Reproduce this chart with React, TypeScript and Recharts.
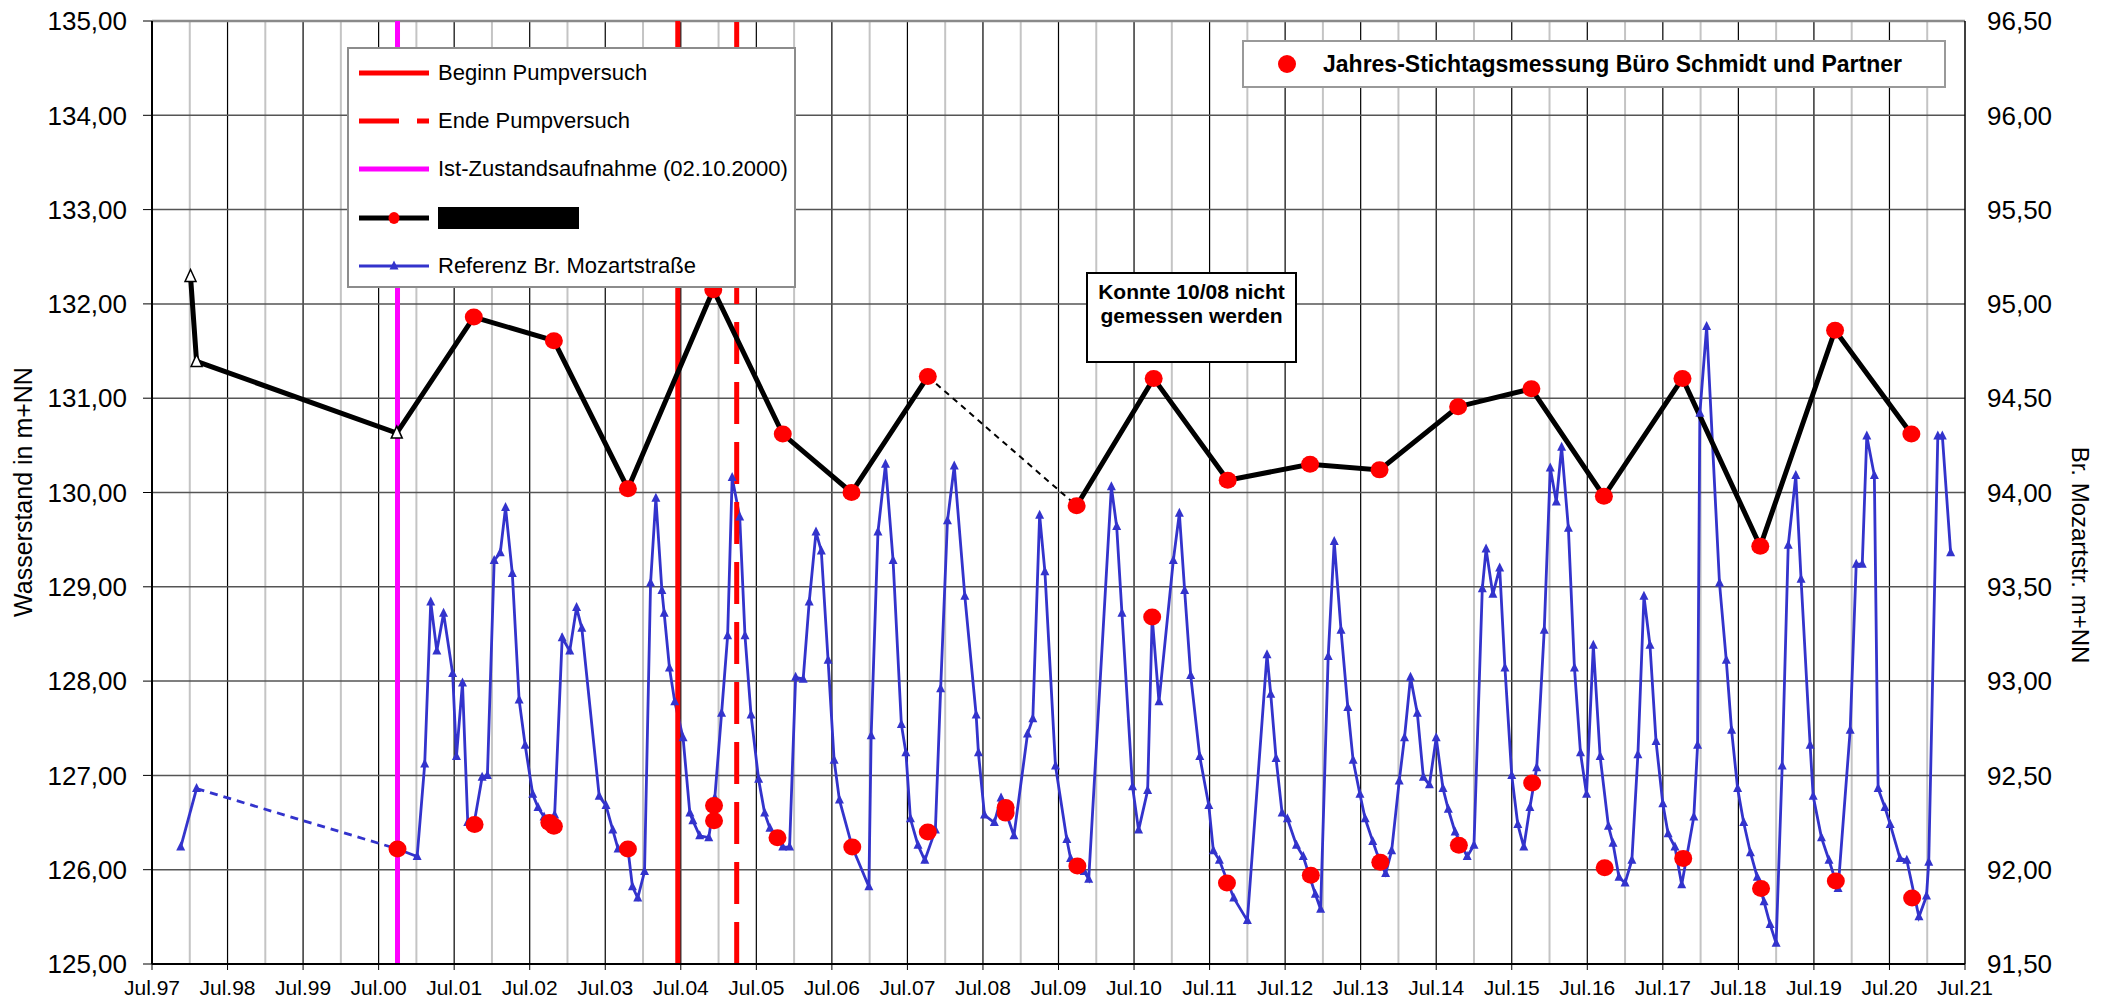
import React from 'react';
import { ComposedChart, Line, Scatter, XAxis, YAxis, ReferenceLine } from 'recharts';

const FONT = '"Liberation Sans", Arial, Helvetica, sans-serif';

// x values are decimal years, Jul.97 = 1997.5
const tickYears = [
  1997.5, 1998.5, 1999.5, 2000.5, 2001.5, 2002.5, 2003.5, 2004.5, 2005.5, 2006.5, 2007.5, 2008.5, 2009.5,
  2010.5, 2011.5, 2012.5, 2013.5, 2014.5, 2015.5, 2016.5, 2017.5, 2018.5, 2019.5, 2020.5, 2021.5,
];
const tickLabels = [
  'Jul.97', 'Jul.98', 'Jul.99', 'Jul.00', 'Jul.01', 'Jul.02', 'Jul.03', 'Jul.04', 'Jul.05', 'Jul.06', 'Jul.07',
  'Jul.08', 'Jul.09', 'Jul.10', 'Jul.11', 'Jul.12', 'Jul.13', 'Jul.14', 'Jul.15', 'Jul.16', 'Jul.17', 'Jul.18',
  'Jul.19', 'Jul.20', 'Jul.21',
];
const janLines = [
  1998, 1999, 2000, 2001, 2002, 2003, 2004, 2005, 2006, 2007, 2008, 2009, 2010, 2011, 2012, 2013, 2014, 2015,
  2016, 2017, 2018, 2019, 2020, 2021,
];
const leftTicks = [125, 126, 127, 128, 129, 130, 131, 132, 133, 134, 135];
const rightTicks = [91.5, 92, 92.5, 93, 93.5, 94, 94.5, 95, 95.5, 96, 96.5];

// event dates
const istZustand = 2000.75;
const beginnPump = 2004.46;
const endePump = 2005.24;
const missedSurvey = 2008.75;

// well, left axis (m+NN): first values (open triangles) and yearly survey (red dots)
const wellEarly = [[1998.01, 132.29], [1998.09, 131.39], [2000.74, 130.63]];
const wellSurvey = [
  [2001.76, 131.86], [2002.82, 131.61], [2003.8, 130.04], [2004.93, 132.15], [2005.85, 130.62],
  [2006.76, 130.0], [2007.77, 131.23], [2009.74, 129.86], [2010.76, 131.21], [2011.74, 130.13],
  [2012.83, 130.3], [2013.75, 130.24], [2014.79, 130.91], [2015.76, 131.1], [2016.72, 129.96],
  [2017.76, 131.21], [2018.79, 129.43], [2019.78, 131.72], [2020.79, 130.62],
];

// Referenz Br. Mozartstraße, right axis
const mozartEarly = [[1997.88, 92.12], [1998.09, 92.43]];
const mozartMain = [
  [2000.75, 92.11], [2001.01, 92.07], [2001.11, 92.56], [2001.19, 93.42], [2001.27, 93.16], [2001.36, 93.36],
  [2001.48, 93.04], [2001.53, 92.6], [2001.61, 92.99], [2001.68, 92.25], [2001.77, 92.26], [2001.87, 92.49],
  [2001.94, 92.5], [2002.03, 93.64], [2002.11, 93.68], [2002.18, 93.92], [2002.27, 93.57], [2002.36, 92.9],
  [2002.44, 92.66], [2002.54, 92.4], [2002.61, 92.33], [2002.69, 92.28], [2002.76, 92.25], [2002.83, 92.29],
  [2002.93, 93.23], [2003.03, 93.16], [2003.12, 93.39], [2003.19, 93.28], [2003.42, 92.39], [2003.51, 92.34],
  [2003.6, 92.21], [2003.67, 92.11], [2003.8, 92.11], [2003.86, 91.91], [2003.93, 91.85], [2004.02, 91.99],
  [2004.1, 93.52], [2004.17, 93.97], [2004.25, 93.48], [2004.28, 93.36], [2004.35, 93.07], [2004.42, 92.89],
  [2004.53, 92.7], [2004.62, 92.3], [2004.66, 92.26], [2004.75, 92.18], [2004.87, 92.17], [2004.95, 92.38],
  [2005.04, 92.83], [2005.12, 93.24], [2005.18, 94.08], [2005.28, 93.87], [2005.35, 93.24], [2005.43, 92.82],
  [2005.53, 92.48], [2005.61, 92.3], [2005.68, 92.22], [2005.78, 92.17], [2005.85, 92.12], [2005.94, 92.12],
  [2006.02, 93.02], [2006.12, 93.01], [2006.2, 93.42], [2006.29, 93.79], [2006.36, 93.69], [2006.45, 93.11],
  [2006.53, 92.58], [2006.6, 92.37], [2006.77, 92.12], [2006.99, 91.91], [2007.02, 92.71], [2007.11, 93.79],
  [2007.21, 94.15], [2007.31, 93.64], [2007.42, 92.77], [2007.48, 92.62], [2007.54, 92.27], [2007.64, 92.13],
  [2007.73, 92.05], [2007.87, 92.21], [2007.94, 92.96], [2008.03, 93.85], [2008.12, 94.14], [2008.26, 93.45],
  [2008.41, 92.82], [2008.44, 92.62], [2008.52, 92.29], [2008.65, 92.25], [2008.74, 92.38], [2008.91, 92.18],
  [2009.09, 92.72], [2009.16, 92.8], [2009.25, 93.88], [2009.32, 93.58], [2009.46, 92.55], [2009.61, 92.16],
  [2009.66, 92.06], [2009.84, 91.99], [2009.9, 91.95], [2010.2, 94.03], [2010.27, 93.82], [2010.34, 93.36],
  [2010.48, 92.44], [2010.56, 92.21], [2010.68, 92.42], [2010.74, 93.34], [2010.83, 92.89], [2011.02, 93.64],
  [2011.1, 93.89], [2011.17, 93.48], [2011.25, 93.03], [2011.37, 92.6], [2011.49, 92.34], [2011.55, 92.1],
  [2011.63, 92.05], [2011.82, 91.85], [2012.0, 91.73], [2012.26, 93.14], [2012.31, 92.93], [2012.38, 92.59],
  [2012.46, 92.3], [2012.53, 92.27], [2012.65, 92.13], [2012.74, 92.07], [2012.9, 91.87], [2012.97, 91.79],
  [2013.07, 93.13], [2013.15, 93.74], [2013.24, 93.27], [2013.33, 92.86], [2013.4, 92.58], [2013.49, 92.4],
  [2013.56, 92.27], [2013.66, 92.15], [2013.74, 92.06], [2013.83, 91.98], [2013.91, 92.1], [2014.01, 92.47],
  [2014.08, 92.7], [2014.16, 93.02], [2014.25, 92.83], [2014.33, 92.49], [2014.41, 92.45], [2014.5, 92.7],
  [2014.59, 92.43], [2014.66, 92.32], [2014.75, 92.2], [2014.91, 92.07], [2015.0, 92.13], [2015.11, 93.49],
  [2015.16, 93.7], [2015.25, 93.46], [2015.34, 93.6], [2015.41, 93.07], [2015.5, 92.5], [2015.58, 92.24],
  [2015.66, 92.12], [2015.74, 92.33], [2015.83, 92.54], [2015.93, 93.27], [2016.01, 94.13], [2016.09, 93.95],
  [2016.16, 94.24], [2016.25, 93.81], [2016.33, 93.07], [2016.41, 92.62], [2016.49, 92.4], [2016.58, 93.19],
  [2016.67, 92.6], [2016.78, 92.23], [2016.84, 92.14], [2016.92, 91.96], [2017.0, 91.93], [2017.09, 92.05],
  [2017.17, 92.61], [2017.25, 93.45], [2017.33, 93.19], [2017.41, 92.68], [2017.5, 92.35], [2017.57, 92.19],
  [2017.66, 92.12], [2017.75, 91.92], [2017.91, 92.28], [2017.96, 92.66], [2017.99, 94.42], [2018.08, 94.88],
  [2018.25, 93.52], [2018.34, 93.11], [2018.41, 92.74], [2018.49, 92.43], [2018.57, 92.25], [2018.66, 92.09],
  [2018.75, 91.96], [2018.84, 91.83], [2018.92, 91.71], [2019.0, 91.61], [2019.08, 92.55], [2019.16, 93.72],
  [2019.26, 94.09], [2019.33, 93.54], [2019.45, 92.66], [2019.49, 92.39], [2019.6, 92.17], [2019.7, 92.05],
  [2019.82, 91.9], [2019.98, 92.74], [2020.06, 93.62], [2020.14, 93.62], [2020.2, 94.3], [2020.3, 94.09],
  [2020.35, 92.43], [2020.44, 92.33], [2020.51, 92.24], [2020.64, 92.06], [2020.73, 92.05], [2020.89, 91.75],
  [2020.99, 91.86], [2021.02, 92.04], [2021.14, 94.3], [2021.2, 94.3], [2021.31, 93.68],
];

// Jahres-Stichtagsmessung Büro Schmidt und Partner, right axis
const stichtag = [
  [2000.75, 92.11], [2001.77, 92.24], [2002.76, 92.25], [2002.82, 92.23], [2003.8, 92.11], [2004.94, 92.34],
  [2004.94, 92.26], [2005.78, 92.17], [2006.77, 92.12], [2007.77, 92.2], [2008.8, 92.33], [2008.8, 92.3],
  [2009.75, 92.02], [2010.74, 93.34], [2011.73, 91.93], [2012.84, 91.97], [2013.76, 92.04], [2014.8, 92.13],
  [2015.77, 92.46], [2016.73, 92.01], [2017.77, 92.06], [2018.8, 91.9], [2019.79, 91.94], [2020.8, 91.85],
];

const rows = (pts: number[][]) => pts.map(([t, v]) => ({ t, v }));

const gapAt = wellSurvey.findIndex((p) => p[0] > missedSurvey);
const wellPart1 = rows([...wellEarly, ...wellSurvey.slice(0, gapAt)]);
const wellGap = rows(wellSurvey.slice(gapAt - 1, gapAt + 1));
const wellPart2 = rows(wellSurvey.slice(gapAt));
const mozartGap = rows([mozartEarly[mozartEarly.length - 1], mozartMain[0]]);

const comma = (v: number) => v.toFixed(2).replace('.', ',');

const BlueTri = (p: any) => {
  const { cx, cy } = p;
  if (cx == null || cy == null) return <g key={p.index} />;
  return <polygon key={p.index} points={`${cx},${cy - 5.5} ${cx - 4.5},${cy + 3.5} ${cx + 4.5},${cy + 3.5}`} fill="#3333CC" />;
};

const RedDot = (p: any) => <ellipse cx={p.cx} cy={p.cy} rx={9} ry={8.5} fill="#FF0000" />;

const OpenTri = (p: any) => (
  <polygon
    points={`${p.cx},${p.cy - 7} ${p.cx - 5.5},${p.cy + 5} ${p.cx + 5.5},${p.cy + 5}`}
    fill="#ffffff"
    stroke="#000"
    strokeWidth={1.5}
  />
);

const legendRow = (top: number): React.CSSProperties => ({
  position: 'absolute',
  left: 0,
  top: top - 14,
  height: 28,
  width: '100%',
  display: 'flex',
  alignItems: 'center',
});

export default function App() {
  return (
    <div style={{ position: 'absolute', left: 0, top: 0, width: 2111, height: 1003, background: '#fff', fontFamily: FONT }}>
      <ComposedChart width={2111} height={1003} margin={{ top: 21, right: 0, bottom: 0, left: 0 }}>
        <XAxis
          dataKey="t"
          type="number"
          domain={[1997.5, 2021.5]}
          ticks={tickYears}
          interval={0}
          allowDataOverflow
          height={39}
          tickSize={6}
          tickMargin={10}
          tickFormatter={(v: number) => tickLabels[tickYears.indexOf(v)] ?? ''}
          tick={{ fontSize: 21, fill: '#000', fontFamily: FONT }}
          axisLine={{ stroke: '#000', strokeWidth: 2 }}
          tickLine={{ stroke: '#000' }}
        />
        <YAxis
          yAxisId="left"
          orientation="left"
          type="number"
          domain={[125, 135]}
          ticks={leftTicks}
          interval={0}
          allowDataOverflow
          width={152}
          tickSize={9}
          tickMargin={16}
          tickFormatter={comma}
          tick={{ fontSize: 26, fill: '#000', fontFamily: FONT }}
          axisLine={{ stroke: '#000', strokeWidth: 2 }}
          tickLine={{ stroke: '#000' }}
        />
        <YAxis
          yAxisId="right"
          orientation="right"
          type="number"
          domain={[91.5, 96.5]}
          ticks={rightTicks}
          interval={0}
          allowDataOverflow
          width={146}
          tickSize={6}
          tickMargin={16}
          tickFormatter={comma}
          tick={{ fontSize: 26, fill: '#000', fontFamily: FONT }}
          axisLine={{ stroke: '#000', strokeWidth: 1.5 }}
          tickLine={false}
        />

        {janLines.map((x) => (
          <ReferenceLine key={'j' + x} yAxisId="left" x={x} stroke="#c4c4c4" strokeWidth={2} />
        ))}
        {tickYears.slice(1, -1).map((x) => (
          <ReferenceLine key={'u' + x} yAxisId="left" x={x} stroke="#000" strokeWidth={1.2} />
        ))}
        {leftTicks.slice(1).map((y) => (
          <ReferenceLine key={'h' + y} yAxisId="left" y={y} stroke={y === 135 ? '#8a8a8a' : '#555'} strokeWidth={y === 135 ? 2.5 : 1.5} />
        ))}

        <Line
          yAxisId="right"
          data={rows(mozartEarly)}
          dataKey="v"
          stroke="#3333CC"
          strokeWidth={2.8}
          dot={BlueTri}
          activeDot={false}
          isAnimationActive={false}
        />
        <Line
          yAxisId="right"
          data={mozartGap}
          dataKey="v"
          stroke="#3333CC"
          strokeWidth={2.8}
          strokeDasharray="8 6"
          dot={false}
          activeDot={false}
          isAnimationActive={false}
        />
        <Line
          yAxisId="right"
          data={rows(mozartMain)}
          dataKey="v"
          stroke="#3333CC"
          strokeWidth={2.8}
          dot={BlueTri}
          activeDot={false}
          isAnimationActive={false}
        />

        <ReferenceLine yAxisId="left" x={istZustand} stroke="#FF00FF" strokeWidth={5} />
        <ReferenceLine yAxisId="left" x={beginnPump} stroke="#FF0000" strokeWidth={5} />
        <ReferenceLine yAxisId="left" x={endePump} stroke="#FF0000" strokeWidth={5} strokeDasharray="42 18" />

        <Line yAxisId="left" data={wellPart1} dataKey="v" stroke="#000" strokeWidth={5} dot={false} activeDot={false} isAnimationActive={false} />
        <Line
          yAxisId="left"
          data={wellGap}
          dataKey="v"
          stroke="#000"
          strokeWidth={2}
          strokeDasharray="6 5"
          dot={false}
          activeDot={false}
          isAnimationActive={false}
        />
        <Line yAxisId="left" data={wellPart2} dataKey="v" stroke="#000" strokeWidth={5} dot={false} activeDot={false} isAnimationActive={false} />

        <Scatter yAxisId="left" data={rows(wellEarly)} dataKey="v" shape={OpenTri} isAnimationActive={false} />
        <Scatter yAxisId="left" data={rows(wellSurvey)} dataKey="v" shape={RedDot} isAnimationActive={false} />
        <Scatter yAxisId="right" data={rows(stichtag)} dataKey="v" shape={RedDot} isAnimationActive={false} />
      </ComposedChart>

      {/* axis titles */}
      <div
        style={{
          position: 'absolute',
          left: 23,
          top: 492,
          transform: 'translate(-50%, -50%) rotate(-90deg)',
          whiteSpace: 'nowrap',
          fontSize: 25,
        }}
      >
        Wasserstand in m+NN
      </div>
      <div
        style={{
          position: 'absolute',
          left: 2080,
          top: 555,
          transform: 'translate(-50%, -50%) rotate(90deg)',
          whiteSpace: 'nowrap',
          fontSize: 24,
        }}
      >
        Br. Mozartstr. m+NN
      </div>

      {/* legend: lines */}
      <div
        style={{
          position: 'absolute',
          left: 347,
          top: 47,
          width: 449,
          height: 241,
          boxSizing: 'border-box',
          border: '2px solid #8c8c8c',
          background: '#fff',
          fontSize: 22,
        }}
      >
        <div style={legendRow(24)}>
          <svg width={89} height={28}>
            <line x1={10} x2={80} y1={14} y2={14} stroke="#FF0000" strokeWidth={5} />
          </svg>
          <span>Beginn Pumpversuch</span>
        </div>
        <div style={legendRow(72)}>
          <svg width={89} height={28}>
            <line x1={10} x2={80} y1={14} y2={14} stroke="#FF0000" strokeWidth={5} strokeDasharray="40 18" />
          </svg>
          <span>Ende Pumpversuch</span>
        </div>
        <div style={legendRow(120)}>
          <svg width={89} height={28}>
            <line x1={10} x2={80} y1={14} y2={14} stroke="#FF00FF" strokeWidth={5} />
          </svg>
          <span>Ist-Zustandsaufnahme (02.10.2000)</span>
        </div>
        <div style={legendRow(169)}>
          <svg width={89} height={28}>
            <line x1={10} x2={80} y1={14} y2={14} stroke="#000" strokeWidth={5} />
            <ellipse cx={45} cy={14} rx={5.5} ry={6} fill="#FF0000" />
          </svg>
          <div style={{ width: 141, height: 22, background: '#000' }} />
        </div>
        <div style={legendRow(217)}>
          <svg width={89} height={28}>
            <line x1={10} x2={80} y1={14} y2={14} stroke="#3333CC" strokeWidth={2.8} />
            <polygon points="45,8.5 40.5,17.5 49.5,17.5" fill="#3333CC" />
          </svg>
          <span>Referenz Br. Mozartstraße</span>
        </div>
      </div>

      {/* legend: survey points */}
      <div
        style={{
          position: 'absolute',
          left: 1242,
          top: 40,
          width: 704,
          height: 48,
          boxSizing: 'border-box',
          border: '2.5px solid #999',
          background: '#fff',
          display: 'flex',
          alignItems: 'center',
          fontSize: 23,
          fontWeight: 'bold',
        }}
      >
        <svg width={79} height={30}>
          <ellipse cx={43} cy={15} rx={9} ry={9} fill="#FF0000" />
        </svg>
        <span>Jahres-Stichtagsmessung Büro Schmidt und Partner</span>
      </div>

      {/* note */}
      <div
        style={{
          position: 'absolute',
          left: 1086,
          top: 272,
          width: 211,
          height: 91,
          boxSizing: 'border-box',
          border: '2px solid #000',
          background: '#fff',
          fontSize: 21,
          fontWeight: 'bold',
          textAlign: 'center',
          lineHeight: '24px',
          paddingTop: 6,
        }}
      >
        Konnte 10/08 nicht
        <br />
        gemessen werden
      </div>
    </div>
  );
}
